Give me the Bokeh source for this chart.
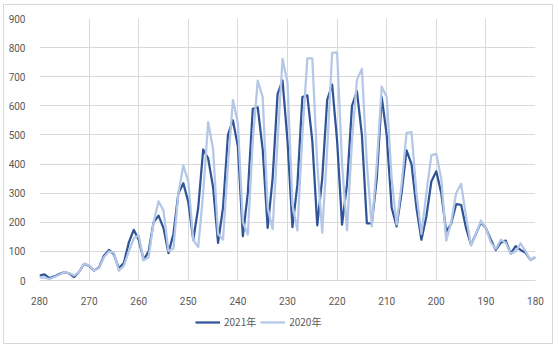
from bokeh.plotting import figure
from bokeh.models import Range1d, SingleIntervalTicker, Legend, LegendItem
from bokeh.layouts import column
from bokeh.embed import file_html
from bokeh.resources import INLINE

scores = list(range(280, 179, -1))

v2021 = [17, 21, 8, 14, 22, 29, 24, 12, 30, 57,
         50, 34, 45, 85, 105, 90, 42, 60, 130, 174,
         140, 71, 100, 200, 223, 180, 94, 160, 300, 334,
         270, 140, 250, 450, 420, 320, 129, 250, 500, 550,
         460, 152, 300, 590, 595, 450, 181, 350, 640, 687,
         480, 183, 330, 630, 636, 480, 189, 350, 620, 673,
         480, 192, 330, 600, 650, 500, 196, 196, 350, 630,
         500, 250, 186, 300, 447, 400, 250, 140, 220, 340,
         375, 300, 168, 195, 262, 260, 180, 123, 160, 200,
         180, 140, 105, 130, 137, 92, 118, 105, 95, 71,
         80]

v2020 = [11, 10, 5, 12, 20, 29, 25, 17, 30, 57,
         52, 34, 42, 80, 100, 95, 34, 50, 100, 145,
         155, 69, 80, 200, 272, 240, 101, 110, 300, 395,
         340, 140, 115, 300, 544, 450, 160, 140, 400, 620,
         540, 200, 157, 480, 687, 630, 250, 177, 480, 761,
         680, 260, 172, 500, 763, 763, 400, 164, 450, 782,
         784, 400, 172, 480, 690, 727, 400, 186, 400, 666,
         630, 350, 192, 330, 507, 510, 300, 160, 300, 430,
         435, 350, 137, 200, 300, 332, 220, 120, 160, 206,
         180, 130, 109, 140, 130, 92, 100, 128, 100, 71,
         80]

series_names = ["2021年", "2020年"]
colors = ["#2f5597", "#b4c7e7"]
LW = 2.25

p = figure(width=548, height=305, output_backend="svg", toolbar_location=None,
           x_range=Range1d(280, 180), y_range=Range1d(0, 900),
           min_border_left=35, min_border_right=17, min_border_top=13, min_border_bottom=30)
p.outline_line_color = None
p.background_fill_color = "white"
p.border_fill_color = "white"

p.line(scores, v2021, line_color=colors[0], line_width=LW, line_join="round")
p.line(scores, v2020, line_color=colors[1], line_width=LW, line_join="round")

p.xaxis.ticker = SingleIntervalTicker(interval=10)
p.yaxis.ticker = SingleIntervalTicker(interval=100)
for ax in (p.xaxis[0], p.yaxis[0]):
    ax.major_tick_line_color = None
    ax.minor_tick_line_color = None
    ax.major_label_text_font = "Roboto"
    ax.major_label_text_font_size = "10px"
    ax.major_label_text_color = "#595959"
p.xaxis.axis_line_color = "#d9d9d9"
p.yaxis.axis_line_color = None
p.xaxis.major_label_standoff = 10
p.yaxis.major_label_standoff = 8
p.xgrid.grid_line_color = "#d9d9d9"
p.ygrid.grid_line_color = "#d9d9d9"
p.xgrid.ticker = SingleIntervalTicker(interval=10)
p.ygrid.ticker = SingleIntervalTicker(interval=100)

# legend strip below the chart
lg = figure(width=548, height=33, output_backend="svg", toolbar_location=None,
            x_range=Range1d(0, 1), y_range=Range1d(0, 1),
            x_axis_type=None, y_axis_type=None,
            min_border_left=0, min_border_right=0, min_border_top=0, min_border_bottom=0)
lg.outline_line_color = None
lg.grid.visible = False
lg.border_fill_color = "white"
k21 = lg.line(scores, v2021, line_color=colors[0], line_width=LW)
k20 = lg.line(scores, v2020, line_color=colors[1], line_width=LW)
legend = Legend(items=[LegendItem(label=series_names[0], renderers=[k21]),
                       LegendItem(label=series_names[1], renderers=[k20])],
                orientation="horizontal", location=(156, 14),
                margin=0, padding=0, spacing=4, label_standoff=4,
                glyph_width=25, glyph_height=10,
                label_text_font="Noto Sans CJK SC", label_text_font_size="10px",
                label_text_color="#595959",
                border_line_alpha=0, background_fill_alpha=0)
lg.add_layout(legend, "center")

layout = column(p, lg, spacing=0, width=548, height=338, sizing_mode="fixed")
layout.margin = (4, 0, 0, 3)
layout.styles = {"border": "1px solid #d9d9d9", "box-sizing": "content-box", "overflow": "visible"}

open("out.html", "w").write(file_html(layout, INLINE))
